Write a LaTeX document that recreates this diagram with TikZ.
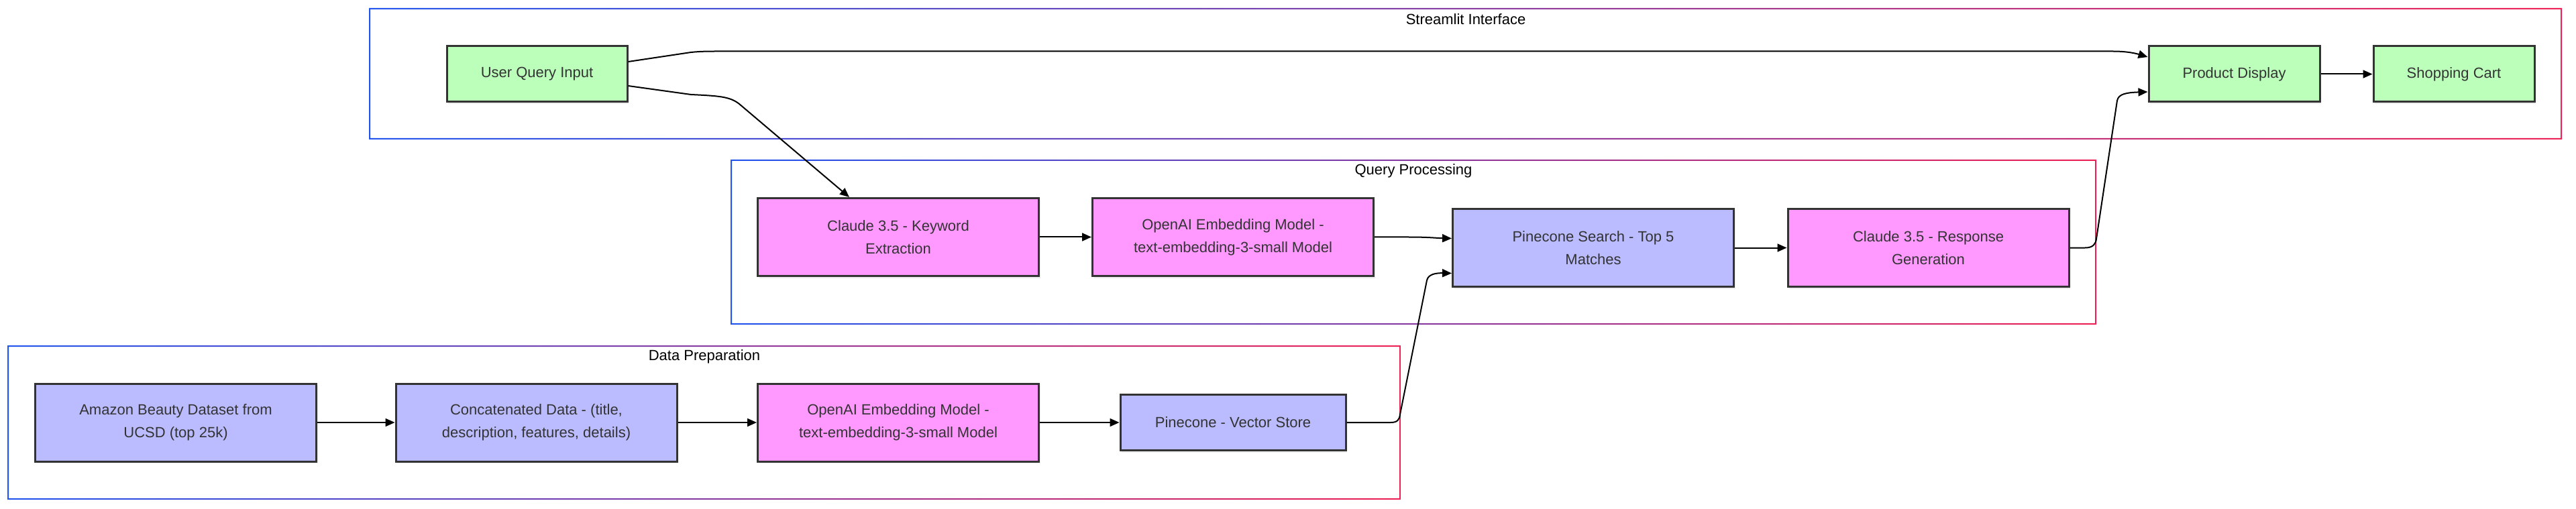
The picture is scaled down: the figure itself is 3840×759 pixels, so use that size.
\documentclass[tikz,border=0pt]{standalone}
\usepackage{fontspec}
\setmainfont{Liberation Sans}
\usetikzlibrary{arrows.meta,shadows}
\definecolor{nodeline}{HTML}{333333}
\definecolor{greenfill}{HTML}{BBFFBB}
\definecolor{bluefill}{HTML}{BBBBFF}
\definecolor{pinkfill}{HTML}{FF99FF}
\definecolor{clusterleft}{HTML}{2255EE}
\definecolor{clusterright}{HTML}{EE2255}
\tikzset{
box/.style={draw=nodeline,line width=1.5pt,text=nodeline,align=center,inner sep=0pt,
  font=\fontsize{11}{17}\selectfont,drop shadow={opacity=0.15,shadow xshift=1pt,shadow yshift=-1.5pt}},
greenbox/.style={box,fill=greenfill,minimum height=41.5pt},
bluebox/.style={box,fill=bluefill,minimum height=58pt,minimum width=209.5pt},
pinkbox/.style={box,fill=pinkfill,minimum height=58pt,minimum width=209.5pt},
flow/.style={line width=1pt,-{Triangle[length=7pt,width=6pt]}},
clustertitle/.style={font=\fontsize{11}{13}\selectfont,text=black},
cluster/.style={left color=clusterleft,right color=clusterright,even odd rule}
}
\begin{document}
\begin{tikzpicture}[x=0.5pt,y=-0.5pt]
\useasboundingbox (0,0) rectangle (3840,759);
\fill[white] (0,0) rectangle (3840,759);
\shade[cluster] (550,12) rectangle (3819,208) (552,14) rectangle (3817,206);
\shade[cluster] (1089,238) rectangle (3125,484) (1091,240) rectangle (3123,482);
\shade[cluster] (11,515) rectangle (2088,745) (13,517) rectangle (2086,743);
\node[clustertitle] (sititle) at (2185,29) {Streamlit Interface};
\node[clustertitle] (qptitle) at (2107,255) {Query Processing};
\node[clustertitle] (dptitle) at (1050,532) {Data Preparation};
\node[greenbox,minimum width=134.5pt] (uqi) at (800.5,110.5) {User Query Input};
\node[greenbox,minimum width=127.5pt] (pd) at (3330.5,110.5) {Product Display};
\node[greenbox,minimum width=120pt] (sc) at (3658,110.5) {Shopping Cart};
\node[pinkbox] (ckw) at (1339,353.5) {Claude 3.5 - Keyword\\Extraction};
\node[pinkbox] (oqp) at (1838,353.5) {OpenAI Embedding Model -\\text-embedding-3-small Model};
\node[bluebox] (ps) at (2375,369.5) {Pinecone Search - Top 5\\Matches};
\node[pinkbox] (cr) at (2874.5,369.5) {Claude 3.5 - Response\\Generation};
\node[bluebox] (abd) at (262,630) {Amazon Beauty Dataset from\\UCSD (top 25k)};
\node[bluebox] (cat) at (799.5,630) {Concatenated Data - (title,\\description, features, details)};
\node[pinkbox] (odp) at (1339,630) {OpenAI Embedding Model -\\text-embedding-3-small Model};
\node[box,fill=bluefill,minimum width=168pt,minimum height=41.5pt] (pvs) at (1838,630) {Pinecone - Vector Store};
\draw[flow] ([yshift=9.25pt]uqi.east) -- (1030,78) .. controls (1045,76.5) and (1055,76.5) .. (1070,76.5) -- (3150,76.5) .. controls (3172,76.5) and (3185,80) .. ([yshift=12.75pt]pd.west);
\draw[flow] ([yshift=-8.75pt]uqi.east) -- (1030,141) .. controls (1072,143) and (1088,144) .. (1102,155) -- ([xshift=-36.5pt]ckw.north);
\draw[flow] (ckw.east) -- (oqp.west);
\draw[flow] (oqp.east) -- (2100,353.5) .. controls (2130,353.5) and (2140,355) .. ([yshift=7pt]ps.west);
\draw[flow] (ps.east) -- (cr.west);
\draw[flow] (cr.east) -- (3108,369.5) .. controls (3120,369.5) and (3124,364) .. (3125,356) -- (3156,150) .. controls (3158,140) and (3170,138) .. ([yshift=-13.25pt]pd.west);
\draw[flow] (pd.east) -- (sc.west);
\draw[flow] (abd.east) -- (cat.west);
\draw[flow] (cat.east) -- (odp.west);
\draw[flow] (odp.east) -- (pvs.west);
\draw[flow] (pvs.east) -- (2073,630) .. controls (2083,630) and (2086,626) .. (2087,618) -- (2127,418) .. controls (2129,409) and (2140,407) .. ([yshift=-19pt]ps.west);
\end{tikzpicture}
\end{document}
